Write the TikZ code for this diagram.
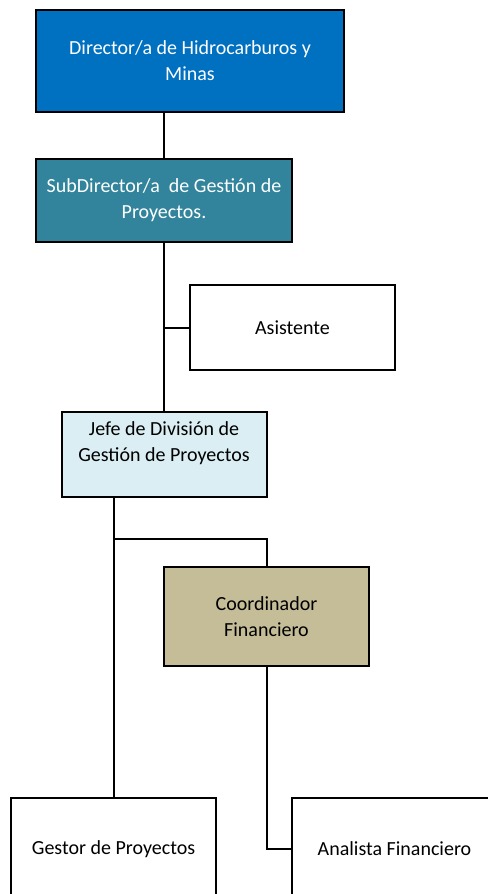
\documentclass[tikz,border=0pt]{standalone}
\usepackage{fontspec}
\setmainfont{Carlito}
\usepackage{tikz}

\definecolor{dirblue}{HTML}{0070C0}
\definecolor{subteal}{HTML}{31849B}
\definecolor{jefeblue}{HTML}{DAEEF3}
\definecolor{coordkhaki}{HTML}{C4BD97}

\begin{document}
\begin{tikzpicture}[x=0.75pt, y=-0.75pt,
  puesto/.style={draw, line width=1.5pt, align=center, inner sep=0pt,
    font=\fontsize{15}{19.5}\selectfont, minimum width=153.75pt, minimum height=63.75pt},
  enlace/.style={line width=1.5pt}]
\clip (0,0) rectangle (488,894);

\node[puesto, fill=dirblue, text=white, minimum width=231pt, minimum height=76.5pt] (dir) at (190,61) {Director/a de Hidrocarburos y\\Minas};
\node[puesto, fill=subteal, text=white, minimum width=192pt, minimum height=62.25pt] (sub) at (164,200.5) {SubDirector/a~ de Gestión de\\Proyectos.};
\node[puesto] (asis) at (292.5,327.5) {Asistente};
\node[puesto, fill=jefeblue] (jefe) at (164,454.5) {Jefe de División de\\Gestión de Proyectos\\ };
\node[puesto, fill=coordkhaki, minimum height=74.25pt] (coord) at (266.5,616.5) {Coordinador\\Financiero};
\node[puesto, minimum height=76.5pt] (gestor) at (113.5,849) {Gestor de Proyectos};
\node[puesto, minimum height=76.5pt] (ana) at (394.5,849) {Analista Financiero};

\coordinate (rama) at (113,539);

\draw[enlace] (sub.north) -- (sub.north |- dir.south);
\draw[enlace] (sub.south) -- (jefe.north);
\draw[enlace] (asis.west) -- (asis.west -| sub.south);
\draw[enlace] (gestor.north) -- (gestor.north |- jefe.south);
\draw[enlace] (gestor.north |- rama) -- (coord.north |- rama) -- (coord.north);
\draw[enlace] (coord.south) -- (coord.south |- ana.west) -- (ana.west);
\end{tikzpicture}
\end{document}
